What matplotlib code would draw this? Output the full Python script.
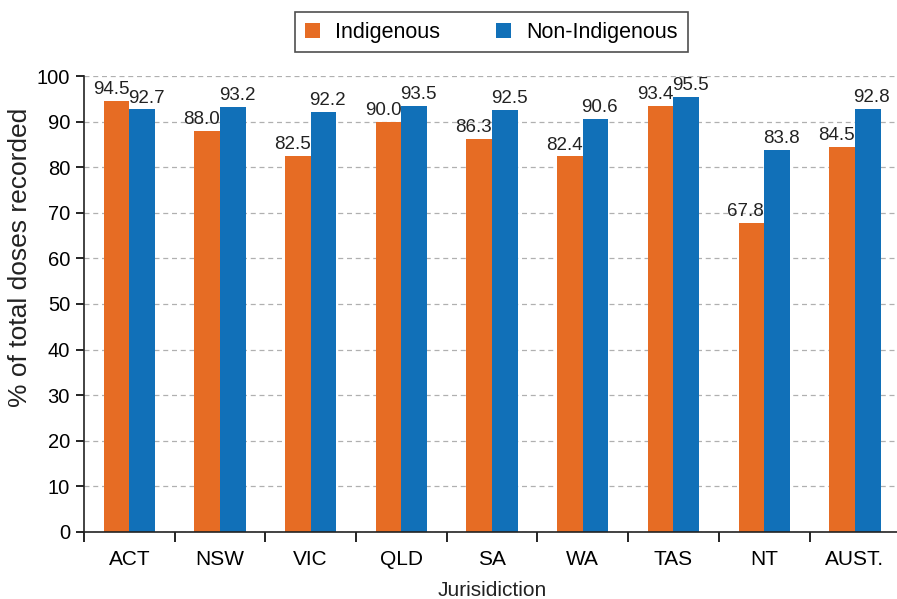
import matplotlib.pyplot as plt
import numpy as np

plt.rcParams['font.family'] = ['Liberation Sans', 'DejaVu Sans']

regions = ['ACT', 'NSW', 'VIC', 'QLD', 'SA', 'WA', 'TAS', 'NT', 'AUST.']
indigenous = [94.5, 88.0, 82.5, 90.0, 86.3, 82.4, 93.4, 67.8, 84.5]
non_indigenous = [92.7, 93.2, 92.2, 93.5, 92.5, 90.6, 95.5, 83.8, 92.8]

orange = '#E66C24'
blue = '#1170B8'
ink = '#222222'

fig = plt.figure(figsize=(8.97, 5.99), dpi=100)
ax = fig.add_axes([0.0936, 0.112, 0.91, 0.761])

x = np.arange(len(regions))
w = 0.283
b1 = ax.bar(x - w / 2, indigenous, w, color=orange, label='Indigenous', zorder=2)
b2 = ax.bar(x + w / 2, non_indigenous, w, color=blue, label='Non-Indigenous', zorder=2)

# value labels, nudged outward so neighbouring numbers don't collide
for bars, vals, dx in ((b1, indigenous, -4), (b2, non_indigenous, 3)):
    for bar, v in zip(bars, vals):
        ax.annotate(f'{v:.1f}', (bar.get_x() + bar.get_width() / 2, v),
                    xytext=(dx, 2), textcoords='offset points',
                    ha='center', va='bottom', fontsize=13.5, color=ink)

ax.set_xlim(-0.5, len(regions) - 0.5)
ax.set_ylim(0, 100)
ax.set_yticks(range(0, 101, 10))
ax.tick_params(axis='y', labelsize=14.5, length=6, width=1.2, direction='out', pad=4)

# category labels in the middle, tick marks on the group boundaries
ax.set_xticks(np.arange(-0.5, len(regions) - 0.4, 1.0))
ax.set_xticklabels([])
ax.set_xticks(x, minor=True)
ax.set_xticklabels(regions, minor=True, fontsize=15)
ax.tick_params(axis='x', which='major', length=7, width=1.2, direction='out')
ax.tick_params(axis='x', which='minor', length=0, pad=13)

ax.yaxis.grid(True, linestyle=(0, (4, 3)), color='#b0b0b0', linewidth=0.9, zorder=0)
ax.set_axisbelow(True)
for s in ('top', 'right'):
    ax.spines[s].set_visible(False)
for s in ('left', 'bottom'):
    ax.spines[s].set_linewidth(1.2)
    ax.spines[s].set_color(ink)

fig.text(20 / 897, 1 - 257 / 599, '% of total doses recorded', rotation=90,
         ha='center', va='center', fontsize=19, color=ink)
fig.text(492 / 897, 1 - 590 / 599, 'Jurisidiction', ha='center', va='center',
         fontsize=15, color=ink)

leg = fig.legend(handles=[b1, b2], loc='upper center', bbox_to_anchor=(0.548, 0.98),
                 ncol=2, fontsize=15.5, frameon=True, fancybox=False,
                 edgecolor=ink, handlelength=0.7, handleheight=0.7,
                 columnspacing=2.6, handletextpad=0.7, borderpad=0.45,
                 borderaxespad=0)
leg.get_frame().set_linewidth(1.2)

plt.savefig('out.png', dpi=100)
